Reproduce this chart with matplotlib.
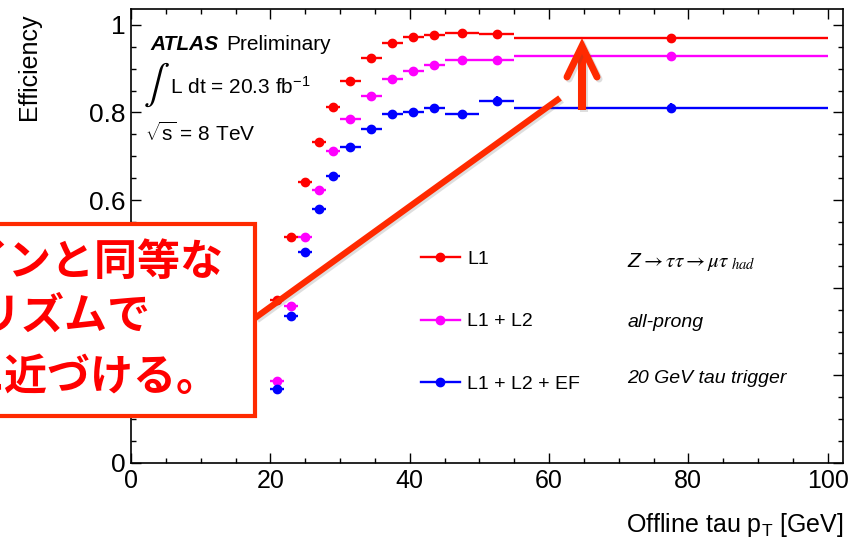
import numpy as np
import matplotlib.pyplot as plt
import matplotlib.patheffects as pe
from matplotlib.patches import Rectangle
from matplotlib.lines import Line2D
from matplotlib.ticker import MultipleLocator

plt.rcParams['font.family'] = ['Liberation Sans', 'DejaVu Sans']
plt.rcParams['mathtext.fontset'] = 'custom'
plt.rcParams['mathtext.rm'] = 'Liberation Sans'
plt.rcParams['mathtext.it'] = 'Liberation Sans:italic'
plt.rcParams['mathtext.bf'] = 'Liberation Sans:bold'
plt.rcParams['mathtext.sf'] = 'Liberation Sans:italic'

# tau pT bins [GeV]
bin_edges = np.array([20, 22, 24, 26, 28, 30, 33, 36, 39, 42, 45, 50, 55, 100])

# trigger efficiencies per bin
eff_l1 = [0.372, 0.515, 0.642, 0.732, 0.812, 0.872, 0.924, 0.958, 0.972, 0.977, 0.981, 0.979, 0.969]
eff_l1_l2 = [0.187, 0.359, 0.515, 0.622, 0.713, 0.785, 0.838, 0.876, 0.895, 0.909, 0.920, 0.920, 0.928]
eff_l1_l2_ef = [0.170, 0.336, 0.481, 0.579, 0.656, 0.720, 0.763, 0.796, 0.802, 0.811, 0.797, 0.827, 0.811]
err_l1 = [0.006, 0.006, 0.006, 0.006, 0.005, 0.005, 0.004, 0.004, 0.004, 0.004, 0.004, 0.004, 0.003]
err_l1_l2 = [0.007, 0.007, 0.007, 0.007, 0.006, 0.006, 0.006, 0.005, 0.005, 0.006, 0.006, 0.006, 0.005]
err_l1_l2_ef = [0.007, 0.007, 0.007, 0.007, 0.007, 0.006, 0.007, 0.007, 0.007, 0.008, 0.008, 0.011, 0.010]

series = [('L1', eff_l1, err_l1, '#ff0000'),
          ('L1 + L2', eff_l1_l2, err_l1_l2, '#ff00ff'),
          ('L1 + L2 + EF', eff_l1_l2_ef, err_l1_l2_ef, '#0000ff')]

centers = 0.5 * (bin_edges[1:] + bin_edges[:-1])
half_w = 0.5 * (bin_edges[1:] - bin_edges[:-1])

W, H = 854, 542
fig = plt.figure(figsize=(W / 100, H / 100), dpi=100)
ax = fig.add_axes([131 / W, 1 - 463 / H, 712 / W, 454 / H])

handles = []
for label, eff, err, col in series:
    ax.errorbar(centers, eff, xerr=half_w, yerr=err, fmt='o', color=col,
                ms=6, elinewidth=1.7, capsize=0)
    handles.append(Line2D([], [], color=col, marker='o', ms=6, lw=1.7))

ax.set_xlim(0, 102.2)
ax.set_ylim(0, 1.036)
ax.set_xticks(range(0, 101, 20))
ax.set_yticks([0, 0.2, 0.4, 0.6, 0.8, 1.0])
ax.set_yticklabels(['0', '0.2', '0.4', '0.6', '0.8', '1'])
ax.xaxis.set_minor_locator(MultipleLocator(5))
ax.yaxis.set_minor_locator(MultipleLocator(0.05))
ax.tick_params(which='both', direction='in', top=True, right=True, width=1)
ax.tick_params(which='major', length=7)
ax.tick_params(which='minor', length=3.5)
ax.tick_params(axis='x', labelsize=18, pad=4)
ax.tick_params(axis='y', labelsize=19, pad=4)
for s in ax.spines.values():
    s.set_linewidth(1.2)

ax.set_ylabel('Efficiency', fontsize=18, loc='top')
ax.yaxis.set_label_coords(-0.127, 0.99)
ax.set_xlabel(r'Offline tau p$_\mathrm{T}$ [GeV]', fontsize=18, loc='right')
ax.xaxis.set_label_coords(1.0, -0.105)

ax.legend(handles, [s[0] for s in series], loc='upper left', bbox_to_anchor=(0.407, 0.469),
          frameon=False, fontsize=14, handlelength=2.0, handletextpad=0.4,
          labelspacing=2.32, borderpad=0, borderaxespad=0, numpoints=1)

# ATLAS labels
ax.text(0.0267, 0.9097, 'ATLAS', transform=ax.transAxes, fontsize=15,
        fontweight='bold', fontstyle='italic', va='baseline')
ax.text(0.1334, 0.9097, 'Preliminary', transform=ax.transAxes, fontsize=15, va='baseline')
ax.text(0.0169, 0.834, r'$\int$', transform=ax.transAxes, fontsize=28,
        math_fontfamily='stix', va='center')
ax.text(0.0548, 0.8128, r'L dt = 20.3 fb$^{-1}$', transform=ax.transAxes, fontsize=15, va='baseline')
ax.text(0.0197, 0.7093, r'$\sqrt{\mathrm{s}}$ = 8 TeV', transform=ax.transAxes, fontsize=15, va='baseline')

ax.text(0.697, 0.4324, r'Z$\rightarrow\tau\tau\rightarrow\mu\tau_{\ had}$', transform=ax.transAxes,
        fontsize=15, fontstyle='italic', math_fontfamily='stix', va='baseline')
ax.text(0.697, 0.300, 'all-prong', transform=ax.transAxes, fontsize=14,
        fontstyle='italic', va='baseline')
ax.text(0.697, 0.177, '20 GeV tau trigger', transform=ax.transAxes, fontsize=14,
        fontstyle='italic', va='baseline')


# overlay callout drawn in pixel positions of the figure
def fpx(x, y):
    return x / W, 1 - y / H


ann = '#ff2a00'
box = Rectangle(fpx(-20, 416), 275 / W, 192 / H, transform=fig.transFigure,
                facecolor='white', edgecolor=ann, lw=3, zorder=10)
fig.add_artist(box)

jp = dict(fontsize=31, color='#ff0000', fontweight='bold', va='center',
          family=['Noto Sans CJK JP', 'DejaVu Sans'], zorder=11)
fig.text(*fpx(-35, 262), 'インと同等な', **jp)
fig.text(*fpx(-64, 316), 'ゴリズムで', **jp)
fig.text(*fpx(-38, 377), 'に近づける。', **jp)

shadow = [pe.SimpleLineShadow(offset=(1.5, -1.5), alpha=0.18, shadow_color='0.3'), pe.Normal()]
xs, ys = zip(fpx(255, 318), fpx(560, 98))
fig.add_artist(Line2D(xs, ys, transform=fig.transFigure, color=ann, lw=4.5,
                      solid_capstyle='butt', path_effects=shadow, zorder=12))
xs, ys = zip(fpx(582, 110), fpx(582, 52))
fig.add_artist(Line2D(xs, ys, transform=fig.transFigure, color=ann, lw=5.8,
                      solid_capstyle='butt', path_effects=shadow, zorder=12))
xs, ys = zip(fpx(567, 77), fpx(582, 46), fpx(597, 77))
fig.add_artist(Line2D(xs, ys, transform=fig.transFigure, color=ann, lw=5,
                      solid_capstyle='round', solid_joinstyle='miter',
                      path_effects=shadow, zorder=12))

fig.savefig('out.png', dpi=100)
